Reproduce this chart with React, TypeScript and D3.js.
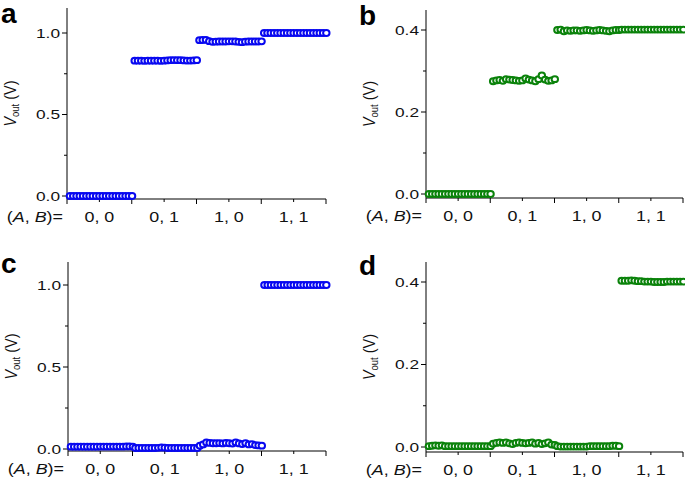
import React from "react";
import * as d3 from "d3";

const categories = ["0, 0", "0, 1", "1, 0", "1, 1"];

// Panel a (blue)
const aSeg1 = [0, 0, 0, 0, 0, 0, 0, 0, 0, 0, 0, 0, 0, 0, 0, 0, 0, 0, 0, 0];
const aSeg2 = [0.83, 0.83, 0.83, 0.829, 0.83, 0.83, 0.83, 0.83, 0.829, 0.83, 0.832, 0.833, 0.834, 0.833, 0.833, 0.832, 0.831, 0.831, 0.832, 0.833];
const aSeg3 = [0.956, 0.957, 0.958, 0.95, 0.946, 0.947, 0.948, 0.948, 0.948, 0.949, 0.949, 0.948, 0.946, 0.944, 0.947, 0.948, 0.948, 0.948, 0.948, 0.949];
const aSeg4 = [1.0, 1.0, 1.0, 1.0, 1.0, 1.0, 1.0, 1.0, 1.0, 1.0, 1.0, 1.0, 1.0, 1.0, 1.0, 1.0, 1.0, 1.0, 1.0, 1.0];

// Panel b (green)
const bSeg1 = [0, 0, 0, 0, 0, 0, 0, 0, 0, 0, 0, 0, 0, 0, 0, 0, 0, 0, 0, 0];
const bSeg2 = [0.275, 0.277, 0.278, 0.276, 0.28, 0.279, 0.278, 0.277, 0.276, 0.277, 0.282, 0.279, 0.277, 0.275, 0.28, 0.289, 0.279, 0.276, 0.277, 0.28];
const bSeg3 = [0.4, 0.401, 0.397, 0.399, 0.398, 0.399, 0.399, 0.398, 0.399, 0.4, 0.399, 0.398, 0.399, 0.4, 0.399, 0.398, 0.397, 0.399, 0.4, 0.4];
const bSeg4 = [0.401, 0.401, 0.401, 0.401, 0.401, 0.401, 0.401, 0.401, 0.401, 0.401, 0.401, 0.401, 0.401, 0.401, 0.401, 0.401, 0.401, 0.401, 0.401, 0.401];

// Panel c (blue)
const cSeg1 = [0.014, 0.014, 0.014, 0.014, 0.014, 0.014, 0.014, 0.014, 0.014, 0.015, 0.015, 0.015, 0.015, 0.015, 0.015, 0.015, 0.015, 0.016, 0.016, 0.015];
const cSeg2 = [0.006, 0.006, 0.006, 0.006, 0.006, 0.006, 0.006, 0.007, 0.009, 0.008, 0.006, 0.006, 0.006, 0.006, 0.006, 0.006, 0.006, 0.006, 0.006, 0.006];
const cSeg3 = [0.02, 0.028, 0.04, 0.037, 0.035, 0.035, 0.036, 0.034, 0.037, 0.035, 0.033, 0.04, 0.034, 0.03, 0.036, 0.028, 0.03, 0.024, 0.022, 0.02];
const cSeg4 = [1.0, 1.0, 1.0, 1.0, 1.0, 1.0, 1.0, 1.0, 1.0, 1.0, 1.0, 1.0, 1.0, 1.0, 1.0, 1.0, 1.0, 1.0, 1.0, 1.0];

// Panel d (green)
const dSeg1 = [0.002, 0.003, 0.004, 0.003, 0.004, 0.002, 0.002, 0.002, 0.002, 0.002, 0.002, 0.002, 0.002, 0.002, 0.002, 0.002, 0.002, 0.002, 0.002, 0.002];
const dSeg2 = [0.008, 0.01, 0.011, 0.01, 0.011, 0.009, 0.007, 0.01, 0.011, 0.01, 0.009, 0.01, 0.011, 0.008, 0.01, 0.007, 0.009, 0.011, 0.006, 0.005];
const dSeg3 = [0.002, 0.001, 0.001, 0.001, 0.001, 0.001, 0.001, 0.001, 0.001, 0.001, 0.002, 0.002, 0.002, 0.002, 0.002, 0.002, 0.002, 0.003, 0.003, 0.002];
const dSeg4 = [0.403, 0.403, 0.403, 0.404, 0.403, 0.402, 0.402, 0.401, 0.401, 0.401, 0.4, 0.4, 0.4, 0.4, 0.401, 0.401, 0.401, 0.401, 0.401, 0.401];

const ticksA = [0, 0.5, 1.0];
const minorA = [0.25, 0.75];
const ticksB = [0, 0.2, 0.4];
const minorB = [0.1, 0.3];

const BLUE = "#0808f0";
const GREEN = "#0a820a";
const FONT = "'Liberation Sans', Arial, Helvetica, sans-serif";
const SX = 1.28; // horizontal stretch of the text in the reference

type PanelProps = {
  letter: string;
  segs: number[][];
  color: string;
  xRange: [number, number];
  yRange: [number, number];
  refVal: number;
  top: number;
  axisY: number;
  ticks: number[];
  minor: number[];
  letterPos: [number, number];
};

function SText(props: { x: number; y: number; anchor?: string; size: number; dy?: string; children: any }) {
  return (
    <g transform={`translate(${props.x},${props.y}) scale(${SX},1)`}>
      <text x={0} y={0} dy={props.dy} textAnchor={props.anchor || "start"} fontSize={props.size} fill="#111">
        {props.children}
      </text>
    </g>
  );
}

function Panel(p: PanelProps) {
  const x = d3.scaleLinear().domain([0, 4]).range(p.xRange);
  const y = d3.scaleLinear().domain([0, p.refVal]).range(p.yRange);
  const x0 = p.xRange[0];
  const x1 = p.xRange[1];
  const fmt = d3.format(".1f");
  const points: { x: number; y: number }[] = [];
  p.segs.forEach((seg, k) => {
    const n = seg.length;
    seg.forEach((v, j) => {
      points.push({ x: k + 0.045 + (j * 0.96) / (n - 1), y: v });
    });
  });
  const majorX = d3.range(0, 5);
  const minorX = d3.range(0.5, 4, 1);
  const midY = (p.top + p.axisY) / 2;
  return (
    <g fontFamily={FONT}>
      <text x={p.letterPos[0]} y={p.letterPos[1]} fontSize={28} fontWeight="bold" fill="#000">
        {p.letter}
      </text>
      <line x1={x0} x2={x0} y1={p.top} y2={p.axisY} stroke="#000" strokeWidth={1} />
      <line x1={x0} x2={x1} y1={p.axisY} y2={p.axisY} stroke="#000" strokeWidth={1} />
      {p.ticks.map((t) => (
        <g key={"yt" + t}>
          <line x1={x0 - 5} x2={x0} y1={y(t)} y2={y(t)} stroke="#000" />
          <SText x={x0 - 7} y={y(t)} dy="0.36em" anchor="end" size={13.5}>
            {fmt(t)}
          </SText>
        </g>
      ))}
      {p.minor.map((t) => (
        <line key={"ym" + t} x1={x0 - 3} x2={x0} y1={y(t)} y2={y(t)} stroke="#000" />
      ))}
      {majorX.map((t) => (
        <line key={"xt" + t} x1={x(t)} x2={x(t)} y1={p.axisY} y2={p.axisY + 5} stroke="#000" />
      ))}
      {minorX.map((t) => (
        <line key={"xm" + t} x1={x(t)} x2={x(t)} y1={p.axisY} y2={p.axisY + 3} stroke="#000" />
      ))}
      {categories.map((c, i) => (
        <SText key={c} x={x(i + 0.5)} y={p.axisY + 23} anchor="middle" size={14}>
          {c}
        </SText>
      ))}
      <SText x={x0 - 4} y={p.axisY + 23} anchor="end" size={14}>
        (<tspan fontStyle="italic">A</tspan>, <tspan fontStyle="italic">B</tspan>)=
      </SText>
      <g transform={`translate(${x0 - 51},${midY}) scale(1.15,1) rotate(-90)`}>
        <text x={0} y={0} textAnchor="middle" fontSize={14.5} fill="#111">
          <tspan fontStyle="italic">V</tspan>
          <tspan fontSize={9.5} dy={3}>out</tspan>
          <tspan dy={-3}> (V)</tspan>
        </text>
      </g>
      {points.map((d, i) => (
        <ellipse
          key={i}
          cx={x(d.x)}
          cy={y(d.y)}
          rx={3.2}
          ry={2.9}
          fill="#ffffff"
          stroke={p.color}
          strokeWidth={2}
        />
      ))}
    </g>
  );
}

export default function App() {
  return (
    <svg width={685} height={482} style={{ display: "block", position: "absolute", left: 0, top: 0 }}>
      <rect width={685} height={482} fill="#fff" />
      <Panel
        letter="a"
        segs={[aSeg1, aSeg2, aSeg3, aSeg4]}
        color={BLUE}
        xRange={[67, 326]}
        yRange={[196, 33]}
        refVal={1.0}
        top={8}
        axisY={199}
        ticks={ticksA}
        minor={minorA}
        letterPos={[1, 23]}
      />
      <Panel
        letter="b"
        segs={[bSeg1, bSeg2, bSeg3, bSeg4]}
        color={GREEN}
        xRange={[426, 683]}
        yRange={[194, 30]}
        refVal={0.4}
        top={10}
        axisY={198}
        ticks={ticksB}
        minor={minorB}
        letterPos={[359, 25]}
      />
      <Panel
        letter="c"
        segs={[cSeg1, cSeg2, cSeg3, cSeg4]}
        color={BLUE}
        xRange={[68, 326]}
        yRange={[449, 285]}
        refVal={1.0}
        top={262}
        axisY={451}
        ticks={ticksA}
        minor={minorA}
        letterPos={[1, 273]}
      />
      <Panel
        letter="d"
        segs={[dSeg1, dSeg2, dSeg3, dSeg4]}
        color={GREEN}
        xRange={[426, 683]}
        yRange={[447, 282]}
        refVal={0.4}
        top={262}
        axisY={452}
        ticks={ticksB}
        minor={minorB}
        letterPos={[359, 275]}
      />
    </svg>
  );
}
